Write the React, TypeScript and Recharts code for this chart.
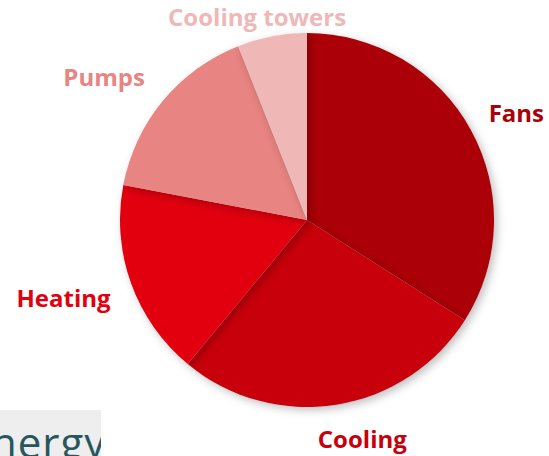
import { PieChart, Pie, Cell } from "recharts";

const categories = ["Fans", "Cooling", "Heating", "Pumps", "Cooling towers"];
const shares = [34, 27, 17, 16, 6];
const colors = ["#ab0007", "#c8000b", "#e2000f", "#e88482", "#f0b7b7"];

// small label nudges (style only)
const labelDx = [-5, 22, 4, 2, -10];
const labelDy = [-5, 8, 5, -8, 6];

const data = categories.map((name, i) => ({ name, value: shares[i] }));

const RAD = Math.PI / 180;

function renderLabel(props: any) {
  const { cx, cy, midAngle, outerRadius, index } = props;
  const r = outerRadius + 26;
  const cos = Math.cos(-midAngle * RAD);
  const sin = Math.sin(-midAngle * RAD);
  const x = cx + r * cos + labelDx[index];
  const y = cy + r * sin + labelDy[index];
  const anchor = Math.abs(cos) < 0.2 ? "middle" : cos > 0 ? "start" : "end";
  return (
    <text
      x={x}
      y={y}
      textAnchor={anchor}
      dominantBaseline="central"
      fill={colors[index]}
      fontFamily="'Open Sans', sans-serif"
      fontWeight={700}
      fontSize={24}
    >
      {categories[index]}
    </text>
  );
}

export default function App() {
  return (
    <div
      style={{
        position: "absolute",
        left: 0,
        top: 0,
        width: 549,
        height: 456,
        background: "#fff",
        overflow: "hidden",
      }}
    >
      <PieChart width={549} height={456} margin={{ top: 0, right: 0, bottom: 0, left: 0 }}>
        <Pie
          data={data}
          dataKey="value"
          cx={307}
          cy={220}
          outerRadius={187}
          startAngle={90}
          endAngle={-270}
          stroke="none"
          label={renderLabel}
          labelLine={false}
          isAnimationActive={false}
          style={{ filter: "drop-shadow(3px 3px 4px rgba(0,0,0,0.25))" }}
        >
          {data.map((d, i) => (
            <Cell key={d.name} fill={colors[i]} />
          ))}
        </Pie>
      </PieChart>

      {/* logo fragment, bottom left */}
      <div
        style={{
          position: "absolute",
          left: 0,
          top: 410,
          width: 101,
          height: 46,
          background: "#eeeeee",
          overflow: "hidden",
        }}
      >
        <div
          style={{
            position: "absolute",
            left: -9,
            top: 11,
            fontFamily: "'Open Sans', sans-serif",
            fontWeight: 400,
            fontSize: 42,
            lineHeight: "42px",
            color: "#27565f",
            letterSpacing: 1,
          }}
        >
          nergy
        </div>
      </div>
    </div>
  );
}
